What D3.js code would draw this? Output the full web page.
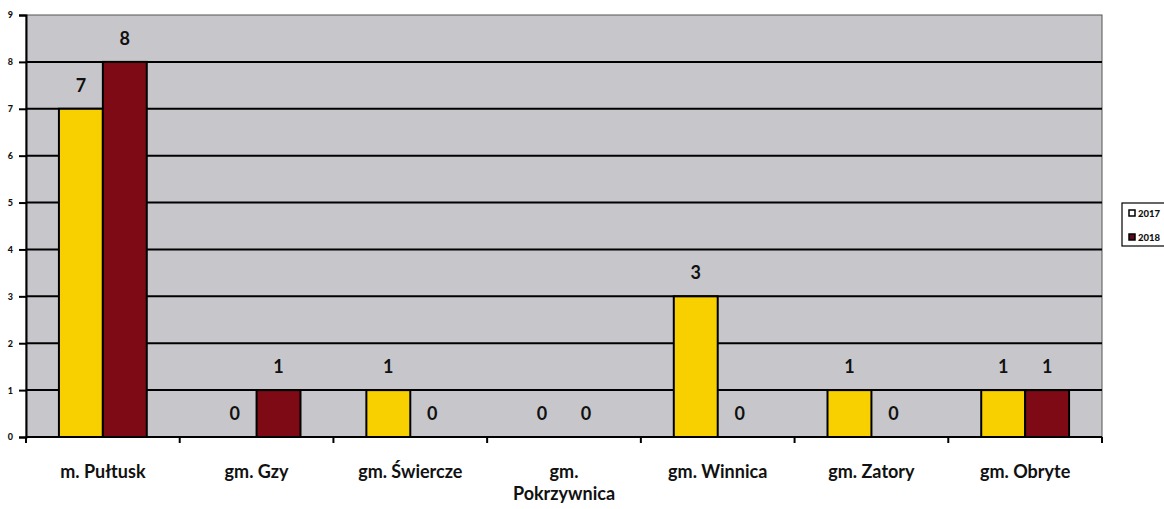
<!DOCTYPE html>
<html><head><meta charset="utf-8">
<script src="https://cdn.jsdelivr.net/npm/d3@7"></script>
<style>
html,body{margin:0;padding:0;background:#fff;}
svg{display:block;font-family:Lato,"Open Sans",sans-serif;}
</style></head>
<body>
<svg id="c" width="1164" height="509"></svg>
<script>
const categories = ["m. Pułtusk","gm. Gzy","gm. Świercze","gm. Pokrzywnica","gm. Winnica","gm. Zatory","gm. Obryte"];
const seriesNames = ["2017","2018"];
const values2017 = [7,0,1,0,3,1,1];
const values2018 = [8,1,0,0,0,0,1];
const yTicks = [0,1,2,3,4,5,6,7,8,9];

const colors = {"2017":"#F8D000","2018":"#7E0A16"};
const legendColors = {"2017":"#FFFFFF","2018":"#5A0A1A"};

const svg = d3.select("#c");
const L=26, R=1102, T=15, B=437;

const x = d3.scaleBand().domain(categories).range([L,R]).paddingInner(0).paddingOuter(0);
const y = d3.scaleLinear().domain([0,9]).range([B,T]);
const bw = x.bandwidth()/3.5;
const xs = d3.scaleBand().domain(seriesNames).range([x.bandwidth()/2 - bw, x.bandwidth()/2 + bw]);

// plot background
svg.append("rect").attr("x",L).attr("y",T).attr("width",R-L).attr("height",B-T)
  .attr("fill","#C7C7CB").attr("stroke","#555").attr("stroke-width",1);

// gridlines
svg.append("g").selectAll("line").data(yTicks.filter(d=>d>0 && d<9)).join("line")
  .attr("x1",L).attr("x2",R).attr("y1",d=>y(d)).attr("y2",d=>y(d))
  .attr("stroke","#000").attr("stroke-width",2);

// bars
const data = [];
categories.forEach((c,i)=>{
  data.push({cat:c, s:"2017", v:values2017[i]});
  data.push({cat:c, s:"2018", v:values2018[i]});
});
svg.append("g").selectAll("rect").data(data.filter(d=>d.v>0)).join("rect")
  .attr("x",d=>x(d.cat)+xs(d.s)).attr("width",xs.bandwidth())
  .attr("y",d=>y(d.v)).attr("height",d=>y(0)-y(d.v))
  .attr("fill",d=>colors[d.s]).attr("stroke","#000").attr("stroke-width",2);

// value labels
svg.append("g").selectAll("text").data(data).join("text")
  .attr("x",d=>x(d.cat)+xs(d.s)+xs.bandwidth()/2)
  .attr("y",d=>y(d.v)-17)
  .attr("text-anchor","middle").attr("font-weight","bold").attr("font-size",18)
  .attr("fill","#111").text(d=>d.v);

// y axis
const yAxis = d3.axisLeft(y).tickValues(yTicks).tickSize(7).tickFormat(d3.format("d"));
const gy = svg.append("g").attr("transform",`translate(${L},0)`).call(yAxis);
gy.select(".domain").attr("stroke","#000").attr("stroke-width",2);
gy.selectAll(".tick line").attr("stroke","#000").attr("stroke-width",2);
gy.selectAll(".tick text").attr("font-size",9).attr("font-weight","900").attr("fill","#111")
  .attr("x",-13).attr("font-family","Lato,sans-serif");

// x axis
const tickPositions = categories.map(c=>x(c)).concat([R]);
const gx = svg.append("g");
gx.append("line").attr("x1",L).attr("x2",R).attr("y1",B).attr("y2",B).attr("stroke","#000").attr("stroke-width",2);
gx.selectAll("line.t").data(tickPositions).join("line").attr("class","t")
  .attr("x1",d=>d).attr("x2",d=>d).attr("y1",B).attr("y2",B+6).attr("stroke","#000").attr("stroke-width",2);

// category labels
const lines = {"gm. Pokrzywnica":["gm.","Pokrzywnica"]};
categories.forEach(c=>{
  const ls = lines[c] || [c];
  const t = svg.append("text").attr("x",x(c)+x.bandwidth()/2).attr("y",478)
    .attr("text-anchor","middle").attr("font-weight","bold").attr("font-size",18).attr("fill","#111");
  ls.forEach((l,i)=>t.append("tspan").attr("x",x(c)+x.bandwidth()/2).attr("dy",i?22:0).text(l));
});

// legend
const lg = svg.append("g");
lg.append("rect").attr("x",1122).attr("y",203).attr("width",60).attr("height",43)
  .attr("fill","#fff").attr("stroke","#000").attr("stroke-width",1.2);
seriesNames.forEach((s,i)=>{
  const cy = 213 + i*24;
  lg.append("rect").attr("x",1129).attr("y",cy-3).attr("width",6).attr("height",6)
    .attr("fill",legendColors[s]).attr("stroke","#000").attr("stroke-width",1.5);
  lg.append("text").attr("x",1138).attr("y",cy+3.5).attr("font-size",9.5).attr("font-weight","900")
    .attr("fill","#111").text(s);
});
</script>
</body></html>
